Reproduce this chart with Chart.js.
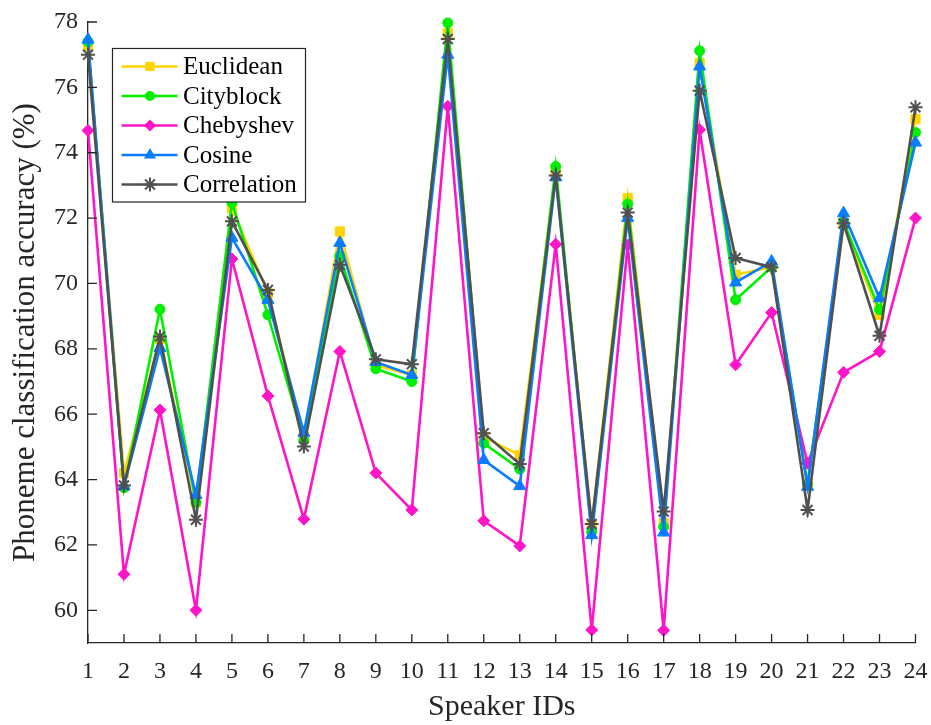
<!DOCTYPE html>
<html>
<head>
<meta charset="utf-8">
<script src="https://cdn.jsdelivr.net/npm/chart.js@4/dist/chart.umd.min.js"></script>
<style>
html,body{margin:0;padding:0;background:#fff;}
#wrap{width:931px;height:725px;position:relative;}
</style>
</head>
<body>
<div id="wrap"><canvas id="c" width="931" height="725"></canvas></div>
<script>
const speakers = ['1','2','3','4','5','6','7','8','9','10','11','12','13','14','15','16','17','18','19','20','21','22','23','24'];
const yTicks = [60,62,64,66,68,70,72,74,76,78];
const euclidean   = [77.25,64.2,68.3,63.3,72.3,69.7,65.3,71.59,67.5,67.2,77.66,65.3,64.75,73.4,62.6,72.61,62.67,76.74,70.27,70.5,63.9,71.8,69.04,75.03];
const cityblock   = [77.4,63.75,69.21,63.3,72.47,69.04,65.2,70.85,67.39,67.0,77.97,65.11,64.32,73.58,62.4,72.43,62.55,77.12,69.5,70.5,63.85,71.9,69.2,74.62];
const chebyshev   = [74.68,61.1,66.13,60.0,70.75,66.56,62.79,67.92,64.2,63.07,75.42,62.74,61.97,71.2,59.4,71.18,59.39,74.7,67.51,69.11,64.5,67.28,67.92,72.0];
const cosine      = [77.46,63.8,68.03,63.53,71.4,69.5,65.43,71.24,67.6,67.2,77.0,64.6,63.8,73.25,62.3,72.0,62.38,76.64,70.03,70.67,63.78,72.15,69.55,74.31];
const correlation = [77.0,63.82,68.38,62.77,71.9,69.8,65.01,70.57,67.68,67.53,77.48,65.42,64.48,73.3,62.64,72.17,63.02,75.9,70.78,70.5,63.07,71.84,68.4,75.39];

const AX = '#262626';
const SERIF = '"Liberation Serif","Times New Roman",Times,serif';

function ds(label, data, color, style, radius, order){
  return {label, data, borderColor: color, backgroundColor: color, pointStyle: style,
    pointRadius: radius, pointHoverRadius: radius, pointBorderWidth: style==='star'?2:1,
    borderWidth: 2.6, tension: 0, order, clip: false, fill: false};
}
const datasets = [
  ds('Euclidean', euclidean, '#FFD500', 'rect', 6.5, 4),
  ds('Cityblock', cityblock, '#00F000', 'circle', 5, 3),
  ds('Chebyshev', chebyshev, '#FF14C8', 'rectRot', 6, 2),
  ds('Cosine', cosine, '#0A7CFF', 'triangle', 7, 1),
  ds('Correlation', correlation, '#505050', 'star', 7, 0)
];

function drawMarker(ctx, style, x, y, r, color){
  ctx.save();
  ctx.fillStyle = color; ctx.strokeStyle = color; ctx.lineWidth = 2;
  ctx.beginPath();
  if (style==='rect'){ const s=Math.SQRT1_2*r; ctx.rect(x-s,y-s,2*s,2*s); ctx.fill(); }
  else if (style==='circle'){ ctx.arc(x,y,r,0,Math.PI*2); ctx.fill(); }
  else if (style==='rectRot'){ ctx.moveTo(x,y-r); ctx.lineTo(x+r,y); ctx.lineTo(x,y+r); ctx.lineTo(x-r,y); ctx.closePath(); ctx.fill(); }
  else if (style==='triangle'){
    ctx.moveTo(x + Math.cos(-Math.PI/2)*r, y + Math.sin(-Math.PI/2)*r);
    ctx.lineTo(x + Math.cos(Math.PI/6)*r, y + Math.sin(Math.PI/6)*r);
    ctx.lineTo(x + Math.cos(5*Math.PI/6)*r, y + Math.sin(5*Math.PI/6)*r);
    ctx.closePath(); ctx.fill();
  } else if (style==='star'){
    for (let k=0;k<4;k++){ const a=k*Math.PI/4; ctx.moveTo(x-Math.cos(a)*r,y-Math.sin(a)*r); ctx.lineTo(x+Math.cos(a)*r,y+Math.sin(a)*r); }
    ctx.stroke();
  }
  ctx.restore();
}

const axesPlugin = {
  id: 'matlabAxes',
  afterDatasetsDraw(chart){
    const {ctx, chartArea:a, scales:{x, y}} = chart;
    ctx.save();
    ctx.strokeStyle = AX; ctx.lineWidth = 1.3;
    ctx.beginPath();
    x.ticks.forEach((t,i)=>{ const px = x.getPixelForTick(i); ctx.moveTo(px, a.bottom); ctx.lineTo(px, a.bottom-9); });
    y.ticks.forEach(t=>{ const py = y.getPixelForValue(t.value); ctx.moveTo(a.left, py); ctx.lineTo(a.left+9, py); });
    ctx.stroke();
    // legend
    const bx=112.5, by=48.5, bw=193, bh=153.5;
    ctx.fillStyle='#fff'; ctx.fillRect(bx,by,bw,bh);
    ctx.strokeStyle=AX; ctx.lineWidth=1.2; ctx.strokeRect(bx,by,bw,bh);
    const rows=[66.5,96,125.5,155,184.5];
    chart.data.datasets.forEach((d,i)=>{
      const ry=rows[i];
      ctx.strokeStyle=d.borderColor; ctx.lineWidth=d.borderWidth;
      ctx.beginPath(); ctx.moveTo(121.5,ry); ctx.lineTo(177.5,ry); ctx.stroke();
      drawMarker(ctx, d.pointStyle, 150, ry, d.pointRadius, d.borderColor);
      ctx.fillStyle='#000'; ctx.font='25px '+SERIF; ctx.textBaseline='middle'; ctx.textAlign='left';
      ctx.fillText(d.label, 183, ry+1);
    });
    ctx.restore();
  }
};

new Chart(document.getElementById('c'), {
  type: 'line',
  data: { labels: speakers, datasets },
  plugins: [axesPlugin],
  options: {
    responsive: false, animation: false,
    layout: { padding: { left: 0, right: 15.5, top: 22, bottom: 0 } },
    plugins: { legend: { display: false }, tooltip: { enabled: false } },
    scales: {
      x: {
        type: 'category', offset: false,
        grid: { display: false, drawTicks: false },
        border: { display: true, color: AX, width: 1.3 },
        ticks: { color: AX, font: { family: SERIF, size: 24 }, padding: 14, maxRotation: 0, autoSkip: false },
        title: { display: true, text: 'Speaker IDs', color: AX, font: { family: SERIF, size: 30 }, padding: { top: 0, bottom: 0 } },
        afterFit(s){ s.height = 82; s.paddingLeft = 0; s.paddingRight = 0; }
      },
      y: {
        min: 59, max: 78,
        grid: { display: false, drawTicks: false },
        border: { display: true, color: AX, width: 1.3 },
        ticks: { color: AX, font: { family: SERIF, size: 24 }, padding: 10 },
        afterBuildTicks(s){ s.ticks = yTicks.map(v=>({value:v})); },
        title: { display: true, text: 'Phoneme classification accuracy (%)', color: AX, font: { family: SERIF, size: 31 }, padding: { top: 7, bottom: 0 } },
        afterFit(s){ s.width = 88; s.paddingTop = 0; s.paddingBottom = 0; }
      }
    }
  }
});
</script>
</body>
</html>
